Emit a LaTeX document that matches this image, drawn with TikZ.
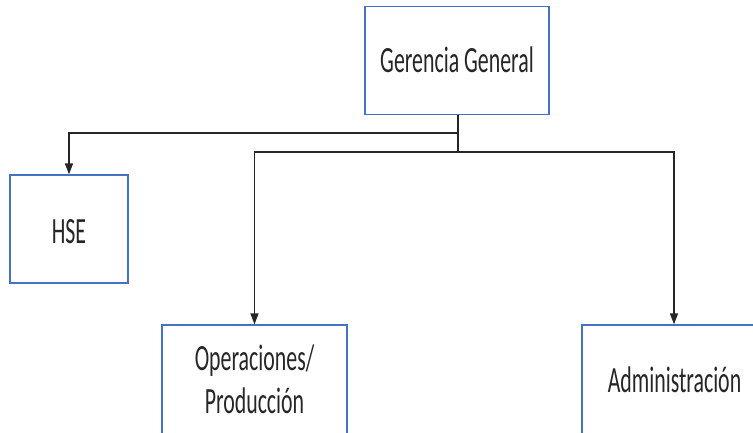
\documentclass[tikz,border=0pt]{standalone}
\usepackage{fontspec}
\setmainfont{Carlito}
\usetikzlibrary{arrows.meta}
\newcommand{\sq}[1]{\scalebox{0.59}[1]{\begin{tabular}[t]{@{}c@{}}#1\end{tabular}}}
\definecolor{boxblue}{HTML}{4472C4}
\tikzset{
  orgbox/.style={draw=boxblue, line width=1.3pt, fill=white, inner sep=0pt, minimum height=108pt, font=\fontsize{37}{43}\selectfont, text=black!85},
  lowbox/.style={orgbox, minimum height=124pt},
  txt/.style={inner sep=0pt, anchor=base, font=\fontsize{37}{43}\selectfont, text=black!85},
  conn/.style={draw=black!85, line width=1.5pt},
  arr/.style={conn, -{Triangle[length=11pt,width=8pt]}}
}
\begin{document}
\begin{tikzpicture}[x=1pt,y=-1pt]
\useasboundingbox (0,0) rectangle (753,432);
\clip (0,0) rectangle (753,432);
\node[orgbox, minimum width=184pt] (g) at (457,60.5) {};
\node[txt] (gt) at (457,72) {\sq{Gerencia General}};
\node[orgbox, minimum width=118pt] (h) at (69,229) {};
\node[txt] (ht) at (69,243) {\sq{HSE}};
\node[lowbox, minimum width=185pt] (o) at (254.5,387) {};
\node[txt] (ot) at (254.5,370) {\sq{Operaciones/\\Producción}};
\node[lowbox, minimum width=184pt] (a) at (674,387) {};
\node[txt] (at) at (674.5,392) {\sq{Administración}};
\coordinate (j1) at (458,133);
\coordinate (j2) at (458,152);
\draw[conn] (g.south -| j1) -- (j2);
\draw[arr] (j1) -| (h.north);
\draw[arr] (j2) -| (o.north);
\draw[arr] (j2) -| (a.north);
\end{tikzpicture}
\end{document}
